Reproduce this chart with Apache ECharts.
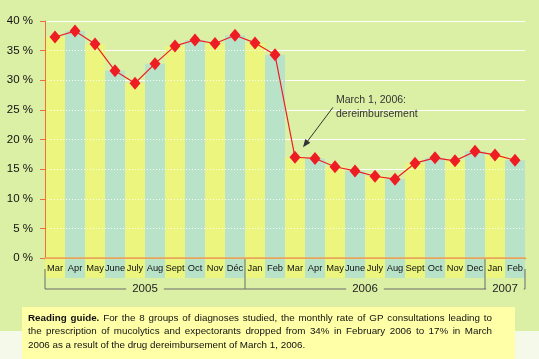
<!DOCTYPE html>
<html><head><meta charset="utf-8">
<script src="https://cdn.jsdelivr.net/npm/echarts@6/dist/echarts.min.js"></script>
<style>html,body{margin:0;padding:0;background:#dcf0a5}#c{width:539px;height:359px}</style>
</head><body><div id="c"></div><script>
// ---- data ----
const months = ['Mar','Apr','May','June','July','Aug','Sept','Oct','Nov','Déc','Jan','Feb',
                'Mar','Apr','May','June','July','Aug','Sept','Oct','Nov','Dec','Jan','Feb'];
const yearNames = ['2005','2006','2007'];
const monthsPerYear = [10, 12, 2];
const rates = [37.3, 38.3, 36.1, 31.6, 29.5, 32.8, 35.8, 36.8, 36.2, 37.6, 36.3, 34.3,
               17.0, 16.8, 15.4, 14.7, 13.8, 13.3, 16.0, 16.9, 16.4, 18.0, 17.4, 16.5];
const yMin = 0, yMax = 40, yStep = 5;
const annotationIndex = 12;
const annotationLines = ['March 1, 2006:', 'dereimbursement'];
const guideBold = 'Reading guide.';
const guideLines = [
  'Reading guide. For the 8 groups of diagnoses studied, the monthly rate of GP consultations leading to',
  'the prescription of mucolytics and expectorants dropped from 34% in February 2006 to 17% in March',
  '2006 as a result of the drug dereimbursement of March 1, 2006.'
];

// ---- style ----
const YELLOW = '#ecf67f', TEAL = '#b9e3c8', BG = '#dcf0a5';
const SANS = "'Liberation Sans', Arial, sans-serif";
const keys = months.map((m, i) => m + '-' + i);

const chart = echarts.init(document.getElementById('c'), null, {renderer: 'canvas'});
chart.setOption({
  animation: false,
  backgroundColor: BG,
  grid: {left: 45, right: 14, top: 21, bottom: 101},
  xAxis: {
    type: 'category', data: keys, boundaryGap: true, z: 4,
    axisLine: {lineStyle: {color: '#eaa45c', width: 2.5}},
    axisTick: {show: false},
    axisLabel: {
      interval: 0, margin: 1,
      formatter: (v, i) => '{' + (i % 2 ? 'b' : 'a') + '|' + months[i] + '}',
      rich: {
        a: {backgroundColor: YELLOW, width: 20, height: 19, lineHeight: 19, align: 'center',
            fontSize: 9.3, fontFamily: SANS, color: '#111'},
        b: {backgroundColor: TEAL, width: 20, height: 19, lineHeight: 19, align: 'center',
            fontSize: 9.3, fontFamily: SANS, color: '#111'}
      }
    }
  },
  yAxis: [{
    type: 'value', min: yMin, max: yMax, interval: yStep, z: 3,
    axisLine: {show: true, lineStyle: {color: '#ef6f3c', width: 1}},
    axisTick: {show: true, length: 5, lineStyle: {color: '#ef6f3c'}},
    axisLabel: {margin: 12, fontSize: 11.5, fontFamily: SANS, color: '#111',
                formatter: v => v + ' %'},
    splitLine: {show: true, lineStyle: {color: 'rgba(255,255,255,0.95)', width: 1, type: [1, 2]}}
  }, {
    type: 'value', min: yMin, max: yMax, interval: yStep, z: 0, position: 'left',
    axisLine: {show: false}, axisTick: {show: false}, axisLabel: {show: false},
    splitLine: {show: true, lineStyle: {color: '#ffffff', width: 1.2}}
  }],
  series: [{
    type: 'bar', data: rates, barCategoryGap: '0%', z: 2,
    itemStyle: {color: p => p.dataIndex % 2 ? TEAL : YELLOW}
  }, {
    type: 'line', data: rates, z: 5,
    symbol: 'diamond', symbolSize: [11, 13],
    itemStyle: {color: '#ee1d23'},
    lineStyle: {color: '#ee1d23', width: 1.2}
  }]
});

// ---- decorations computed from the axes ----
function build() {
  const els = [];
  const c0 = chart.convertToPixel({xAxisIndex: 0}, 0);
  const c1 = chart.convertToPixel({xAxisIndex: 0}, 1);
  const step = c1 - c0;
  const y0 = chart.convertToPixel({yAxisIndex: 0}, yMin);
  const by = y0 + 31;
  els.push({type: 'rect', shape: {x: 0, y: by + 42, width: 539, height: 60}, style: {fill: '#f4f9ea'}, z: 0});
  els.push({type: 'rect', shape: {x: 22, y: by + 18, width: 493, height: 80}, style: {fill: '#ffffa8'}, z: 1});
  let start = 0;
  const bounds = [c0 - step / 2];
  monthsPerYear.forEach(n => { start += n; bounds.push(c0 - step / 2 + start * step); });
  bounds.forEach((bx, k) => {
    const top = (k === 0 || k === bounds.length - 1) ? y0 + 11 : y0 + 1;
    els.push({type: 'line', shape: {x1: bx, y1: top, x2: bx, y2: by}, style: {stroke: '#6a6a6a', lineWidth: 1}, z: 5});
  });
  yearNames.forEach((name, k) => {
    const a = bounds[k], b = bounds[k + 1];
    els.push({type: 'line', shape: {x1: a, y1: by, x2: b, y2: by}, style: {stroke: '#6a6a6a', lineWidth: 1}, z: 5});
    els.push({type: 'text', x: (a + b) / 2, y: by, z: 6,
      style: {text: name, align: 'center', verticalAlign: 'middle', fontSize: 11.5, fontFamily: SANS,
              fill: '#222', backgroundColor: BG, padding: [1, 6]}});
  });
  const pt = chart.convertToPixel({seriesIndex: 1}, [annotationIndex, rates[annotationIndex]]);
  const tip = [pt[0] + 8, pt[1] - 10], tail = [pt[0] + 38, pt[1] - 50];
  const dx = tip[0] - tail[0], dy = tip[1] - tail[1], L = Math.hypot(dx, dy);
  const ux = dx / L, uy = dy / L, px = -uy, py = ux;
  const hl = 8, hw = 3.2;
  els.push({type: 'line', shape: {x1: tail[0], y1: tail[1], x2: tip[0] - ux * 4, y2: tip[1] - uy * 4},
            style: {stroke: '#333', lineWidth: 1}, z: 7});
  els.push({type: 'polygon', shape: {points: [tip,
      [tip[0] - ux * hl + px * hw, tip[1] - uy * hl + py * hw],
      [tip[0] - ux * hl - px * hw, tip[1] - uy * hl - py * hw]]}, style: {fill: '#333'}, z: 7});
  annotationLines.forEach((t, i) => {
    els.push({type: 'text', x: pt[0] + 41, y: pt[1] - 57 + i * 14, z: 7,
      style: {text: t, align: 'left', verticalAlign: 'middle', fontSize: 10.5, fontFamily: SANS, fill: '#333'}});
  });
  const ctx = document.createElement('canvas').getContext('2d');
  const fs = 9.8;
  const left = 28, right = 492;
  const boldWords = guideBold.split(' ').length;
  guideLines.forEach((line, li) => {
    const words = line.split(' ');
    const fonts = words.map((w, wi) => (li === 0 && wi < boldWords ? 'bold ' : '') + fs + 'px ' + SANS);
    const widths = words.map((w, wi) => { ctx.font = fonts[wi]; return ctx.measureText(w).width; });
    const total = widths.reduce((s, v) => s + v, 0);
    ctx.font = fs + 'px ' + SANS;
    const justify = li < guideLines.length - 1;
    const gap = justify ? (right - left - total) / (words.length - 1) : ctx.measureText(' ').width;
    let x = left;
    const y = by + 29 + li * 13.5;
    words.forEach((w, wi) => {
      els.push({type: 'text', x: x, y: y, z: 8,
        style: {text: w, align: 'left', verticalAlign: 'middle', fontSize: fs, fontFamily: SANS,
                fontWeight: (li === 0 && wi < boldWords) ? 'bold' : 'normal', fill: '#111'}});
      x += widths[wi] + gap;
    });
  });
  chart.setOption({graphic: els});
}
build();
</script></body></html>
